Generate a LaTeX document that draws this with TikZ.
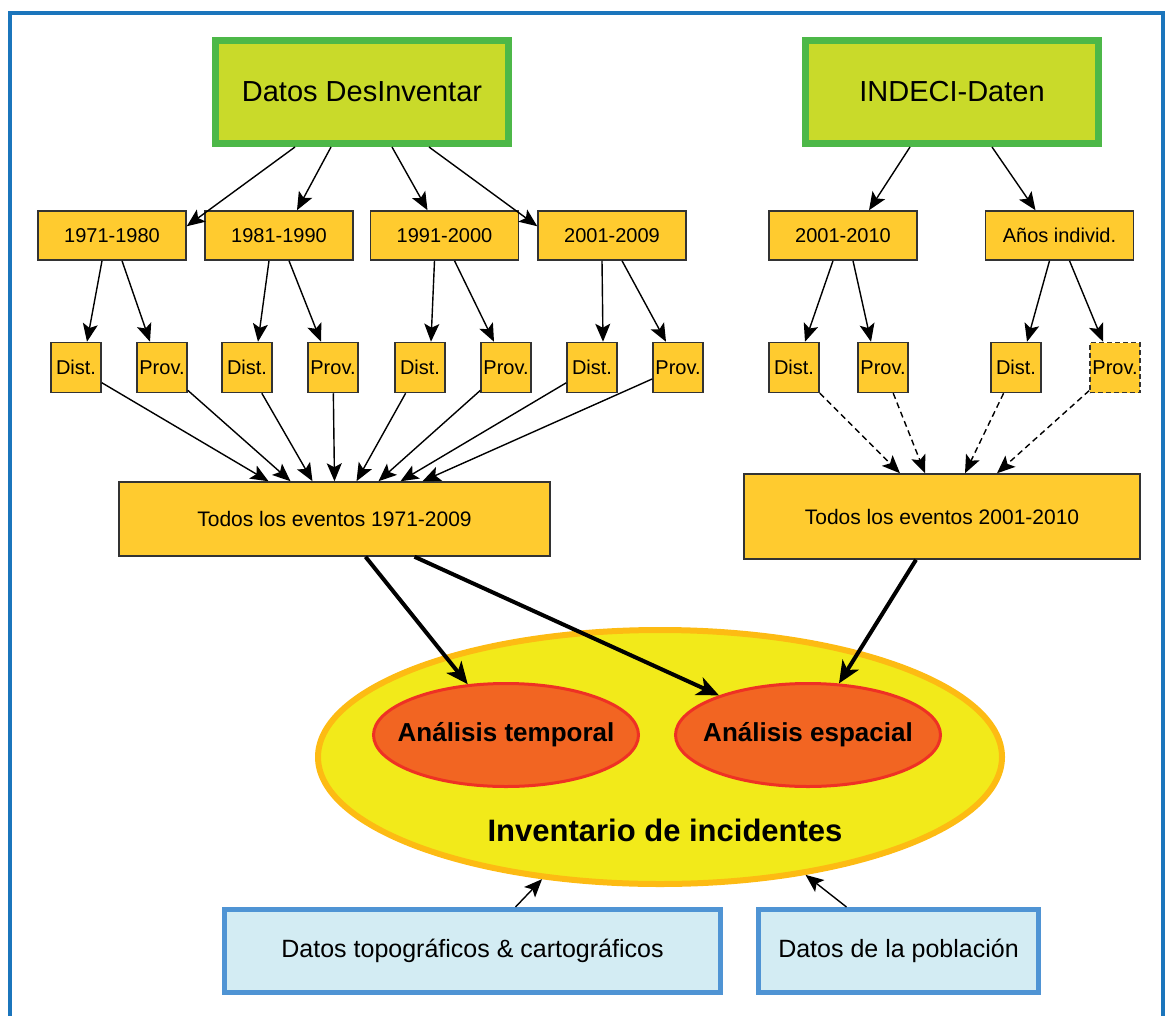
\documentclass[tikz,border=0pt]{standalone}
\usepackage{fontspec}
\setmainfont{Liberation Sans}
\usetikzlibrary{shapes.geometric,arrows.meta}

\definecolor{verdefondo}{HTML}{C9DA2A}
\definecolor{verdeborde}{HTML}{4DB848}
\definecolor{amarillo}{HTML}{FFCB2F}
\definecolor{bordegris}{HTML}{333333}
\definecolor{amarilloclaro}{HTML}{F2EA1A}
\definecolor{amarilloborde}{HTML}{FDBB13}
\definecolor{naranja}{HTML}{F26522}
\definecolor{rojo}{HTML}{EE3124}
\definecolor{celeste}{HTML}{D3ECF3}
\definecolor{azul}{HTML}{4F94D4}
\definecolor{marcoazul}{HTML}{1B75BC}

\newcommand{\centrado}[1]{\makebox[150pt][c]{#1}}

\begin{document}
\begin{tikzpicture}
  [x=1pt, y=-1pt,
   datos/.style={rectangle, fill=verdefondo, draw=verdeborde, line width=7pt, minimum width=293pt, minimum height=103pt, font=\fontsize{29}{31}\selectfont},
   periodo/.style={rectangle, fill=amarillo, draw=bordegris, line width=1.5pt, inner sep=0pt, minimum width=148pt, minimum height=49pt, font=\fontsize{20}{22}\selectfont},
   nivel/.style={periodo, minimum width=50pt, minimum height=50pt},
   todos/.style={periodo, font=\fontsize{21}{23}\selectfont},
   analisis/.style={ellipse, fill=naranja, draw=rojo, line width=3pt, inner sep=0pt, minimum width=265pt, minimum height=103pt, font=\bfseries\fontsize{26}{28}\selectfont},
   inventario/.style={ellipse, fill=amarilloclaro, draw=amarilloborde, line width=6pt, minimum width=684pt, minimum height=254pt},
   extra/.style={rectangle, fill=celeste, draw=azul, line width=5pt, minimum height=83pt, font=\fontsize{25}{27}\selectfont},
   edge/.style={line width=1.4pt, draw=black, -{Stealth[length=18pt, width=15pt, inset=4pt]}},
   punteada/.style={edge, dash pattern=on 6pt off 4pt},
   gruesa/.style={line width=4pt, draw=black, -{Stealth[length=22pt, width=19pt, inset=6pt]}}]

  \useasboundingbox (0,0) rectangle (1166,1016);

  % Marco
  \draw[marcoazul, line width=4pt] (10,1016) -- (10,13) -- (1163,13) -- (1163,1016);

  % Fuentes de datos
  \node[datos] (desinv) at (362,92) {Datos DesInventar};
  \node[datos] (indeci) at (952,92) {INDECI-Daten};

  % Periodos
  \node[periodo] (p71) at (112,235.5) {1971-1980};
  \node[periodo] (p81) at (279,235.5) {1981-1990};
  \node[periodo] (p91) at (444.5,235.5) {1991-2000};
  \node[periodo] (p01) at (612,235.5) {2001-2009};
  \node[periodo] (q01) at (843,235.5) {2001-2010};
  \node[periodo] (qind) at (1059.5,235.5) {Años individ.};

  % Distritos y provincias
  \node[nivel] (d1) at (76,367.5) {Dist.};
  \node[nivel] (pr1) at (162,367.5) {Prov.};
  \node[nivel] (d2) at (247,367.5) {Dist.};
  \node[nivel] (pr2) at (333,367.5) {Prov.};
  \node[nivel] (d3) at (420,367.5) {Dist.};
  \node[nivel] (pr3) at (506,367.5) {Prov.};
  \node[nivel] (d4) at (592,367.5) {Dist.};
  \node[nivel] (pr4) at (678,367.5) {Prov.};
  \node[nivel] (d5) at (794,367.5) {Dist.};
  \node[nivel] (pr5) at (883,367.5) {Prov.};
  \node[nivel] (d6) at (1016,367.5) {Dist.};
  \node[nivel, dash pattern=on 5pt off 3pt] (pr6) at (1115,367.5) {Prov.};

  % Todos los eventos
  \node[todos, minimum width=431pt, minimum height=74pt] (todos1) at (334.5,519) {Todos los eventos 1971-2009};
  \node[todos, minimum width=396pt, minimum height=85pt] (todos2) at (942,516.5) {Todos los eventos 2001-2010};

  % Inventario
  \node[inventario] (inv) at (660,757) {};
  \node[analisis] (temporal) at (506,735) {\centrado{Análisis temporal}};
  \node[analisis] (espacial) at (808,735) {\centrado{Análisis espacial}};
  \node[font=\bfseries\fontsize{31}{33}\selectfont] (invtxt) at (665,830) {Inventario de incidentes};

  % Datos adicionales
  \node[extra, minimum width=496pt] (topo) at (472.5,951) {Datos topográficos \& cartográficos};
  \node[extra, minimum width=280pt] (pobl) at (898.5,951) {Datos de la población};

  % Flechas de las fuentes
  \draw[edge] ([xshift=-67pt]desinv.south) -- ([yshift=-16pt]p71.north east);
  \draw[edge] ([xshift=-31pt]desinv.south) -- ([xshift=18pt]p81.north);
  \draw[edge] ([xshift=30pt]desinv.south) -- ([xshift=-17pt]p91.north);
  \draw[edge] ([xshift=67pt]desinv.south) -- ([yshift=-16pt]p01.north west);
  \draw[edge] ([xshift=-42pt]indeci.south) -- ([xshift=26pt]q01.north);
  \draw[edge] ([xshift=40pt]indeci.south) -- ([xshift=-24pt]qind.north);

  % Periodos -> Dist./Prov.
  \foreach \y/\d/\p in {p71/d1/pr1, p81/d2/pr2, p91/d3/pr3, p01/d4/pr4, q01/d5/pr5, qind/d6/pr6} {
    \draw[edge] ([xshift=-10pt]\y.south) -- ([xshift=11pt]\d.north);
    \draw[edge] ([xshift=10pt]\y.south) -- ([xshift=-12pt]\p.north);
  }

  % Dist./Prov. -> Todos los eventos
  \foreach \n/\dx in {d1/-66, pr1/-44, d2/-22, pr2/0, d3/22, pr3/44, d4/66, pr4/88}
    \draw[edge] (\n) -- ([xshift=\dx pt]todos1.north);
  \foreach \n/\dx in {d5/-42, pr5/-17, d6/23, pr6/55}
    \draw[punteada] (\n) -- ([xshift=\dx pt]todos2.north);

  % Hacia los análisis
  \draw[gruesa] ([xshift=31pt]todos1.south) -- (temporal.127);
  \draw[gruesa] ([xshift=80pt]todos1.south) -- (espacial.156);
  \draw[gruesa] ([xshift=-26pt]todos2.south) -- (espacial.59);

  % Datos adicionales -> Inventario
  \draw[edge] ([xshift=43pt]topo.north) -- (inv.226);
  \draw[edge] ([xshift=-52pt]pobl.north) -- (inv.321);
\end{tikzpicture}
\end{document}
